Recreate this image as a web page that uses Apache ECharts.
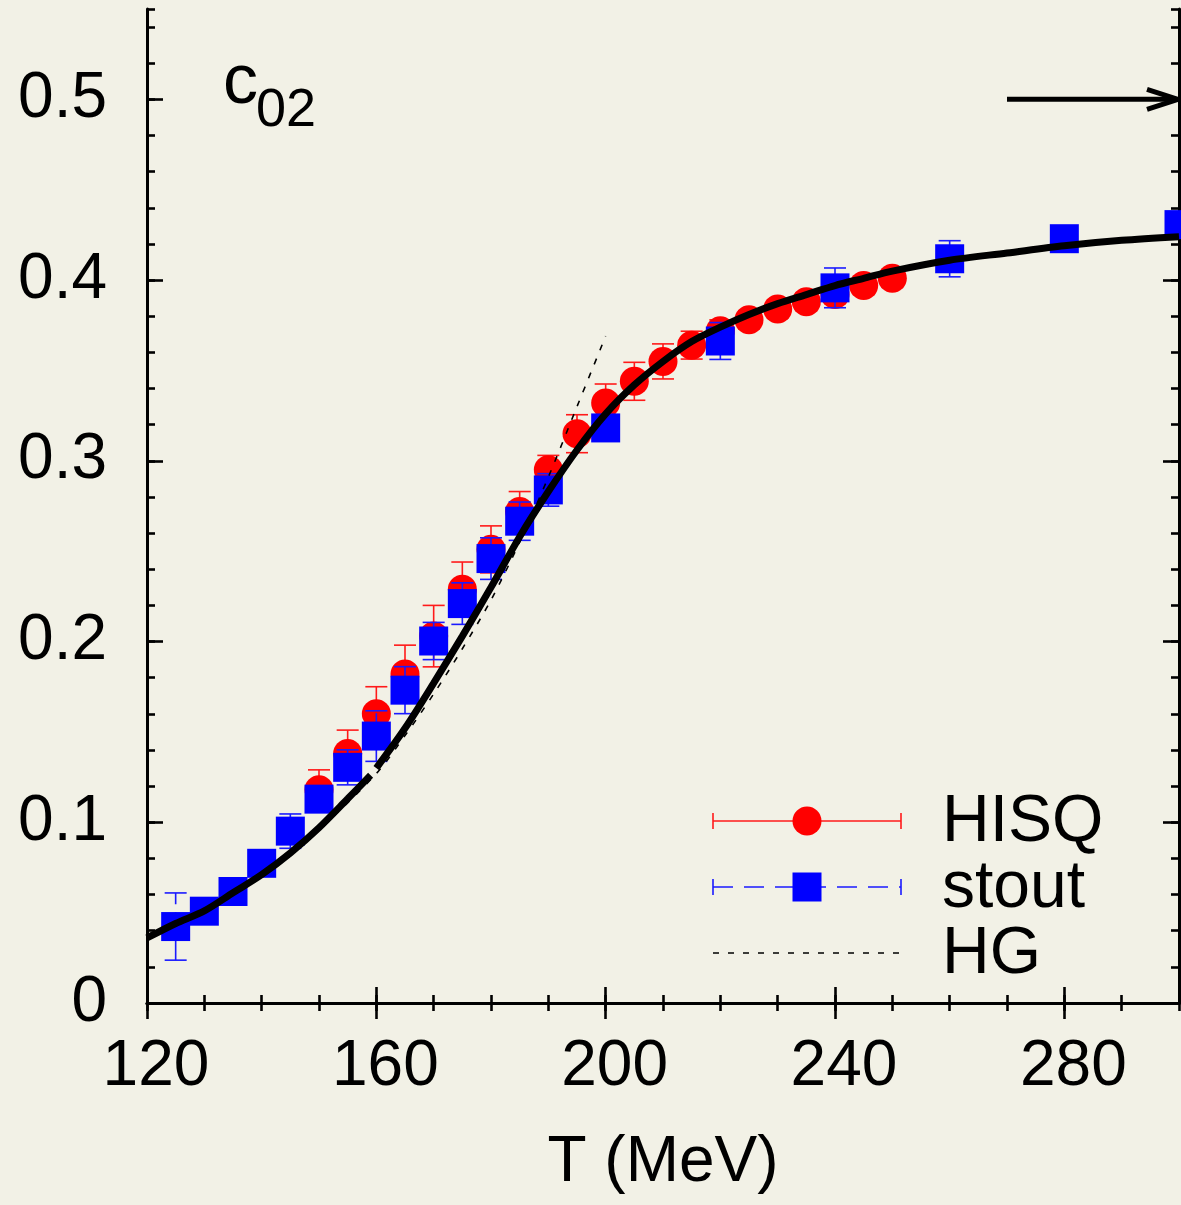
<!DOCTYPE html>
<html>
<head>
<meta charset="utf-8">
<title>c02 vs T</title>
<script src="https://cdn.jsdelivr.net/npm/echarts@6/dist/echarts.min.js"></script>
<style>
  html, body { margin: 0; padding: 0; background: #f2f1e6; }
  #chart { width: 1181px; height: 1205px; }
</style>
</head>
<body>
<div id="chart"></div>
<script>
// HISQ lattice results: temperature (MeV), c02, error
const hisqT   = [150, 155, 160, 165, 170, 175, 180, 185, 190, 195, 200, 205, 210, 215, 220, 225, 230, 235, 240, 245, 250];
const hisqY   = [0.118, 0.138, 0.160, 0.182, 0.203, 0.229, 0.251, 0.272, 0.295, 0.315, 0.332, 0.344, 0.355, 0.364, 0.372, 0.378, 0.384, 0.388, 0.392, 0.397, 0.401];
const hisqErr = [0.011, 0.013, 0.015, 0.016, 0.017, 0.015, 0.013, 0.011, 0.008, 0.0105, 0.0105, 0.0105, 0.0097, 0.0077, 0.006, 0.005, 0.005, 0.005, 0.005, 0.005, 0.005];

// stout lattice results
const stoutT   = [125, 130, 135, 140, 145, 150, 155, 160, 165, 170, 175, 180, 185, 190, 200, 220, 240, 260, 280, 300];
const stoutY   = [0.0423, 0.0508, 0.0617, 0.0773, 0.0951, 0.1128, 0.1304, 0.1477, 0.1731, 0.2003, 0.221, 0.2459, 0.2666, 0.2839, 0.3182, 0.3663, 0.3957, 0.4118, 0.4229, 0.4307];
const stoutErr = [0.0186, 0.003, 0.003, 0.003, 0.0095, 0.007, 0.0097, 0.014, 0.013, 0.0103, 0.0115, 0.0115, 0.0106, 0.009, 0.006, 0.0102, 0.011, 0.010, 0.004, 0.004];

// thick interpolating curve, drawn in two pieces
const fitLowT  = [120, 125, 130, 135, 140, 145, 150, 155, 159];
const fitLowY  = [0.036, 0.044, 0.051, 0.061, 0.071, 0.083, 0.097, 0.113, 0.126];
const fitHighT = [160, 165, 170, 175, 180, 185, 190, 195, 200, 205, 210, 215, 220, 225, 230, 235, 240, 245, 250, 260, 270, 280, 290, 300];
const fitHighY = [0.130, 0.152, 0.177, 0.203, 0.230, 0.258, 0.283, 0.306, 0.326, 0.342, 0.355, 0.366, 0.374, 0.381, 0.387, 0.392, 0.397, 0.401, 0.405, 0.411, 0.415, 0.419, 0.422, 0.424];

// hadron gas prediction
const hgT = [120, 130, 140, 150, 160, 165, 170, 175, 180, 185, 190, 195, 200];
const hgY = [0.036, 0.051, 0.071, 0.096, 0.127, 0.148, 0.171, 0.196, 0.223, 0.255, 0.291, 0.330, 0.369];

// axis ticks
const xTickLabels = [120, 160, 200, 240, 280];
const yTickLabels = [0, 0.1, 0.2, 0.3, 0.4, 0.5];

// Stefan-Boltzmann limit arrow
const arrowFrom = [270, 0.5];
const arrowTo   = [300, 0.5];

const FONT = '"Liberation Sans", Arial, Helvetica, sans-serif';
const BG = '#f2f1e6';

const zip3 = (a, b, c) => a.map((v, i) => [v, b[i], c[i]]);
const zip2 = (a, b) => a.map((v, i) => [v, b[i]]);

function errorBars(color, dash) {
  return function (params, api) {
    const x = api.value(0), y = api.value(1), e = api.value(2);
    const hi = api.coord([x, y + e]);
    const lo = api.coord([x, y - e]);
    const cap = 11;
    const style = { stroke: color, lineWidth: 1.6 };
    return {
      type: 'group',
      children: [
        { type: 'line', shape: { x1: lo[0], y1: lo[1], x2: hi[0], y2: hi[1] },
          style: Object.assign({}, style, dash ? { lineDash: dash } : {}) },
        { type: 'line', shape: { x1: hi[0] - cap, y1: hi[1], x2: hi[0] + cap, y2: hi[1] }, style: style },
        { type: 'line', shape: { x1: lo[0] - cap, y1: lo[1], x2: lo[0] + cap, y2: lo[1] }, style: style }
      ]
    };
  };
}

const axisLineStyle = { color: '#000', width: 3 };
const majorTick = { inside: true, length: 16, lineStyle: { color: '#000', width: 2.6 } };
const minorTick = { inside: true, length: 8, lineStyle: { color: '#000', width: 2.6 } };

function xAxisDef(position, major, labels) {
  return {
    type: 'value', min: 120, max: 300, position: position,
    interval: major ? 40 : 10,
    axisLine: { show: major, lineStyle: axisLineStyle },
    axisTick: Object.assign({}, major ? majorTick : minorTick, major ? { customValues: xTickLabels } : {}),
    axisLabel: labels ? {
      show: true, customValues: xTickLabels, fontSize: 64, fontFamily: FONT, color: '#000',
      margin: 32, padding: [0, 0, 0, 18],
      formatter: v => (v > 290 ? '' : String(v))
    } : { show: false },
    splitLine: { show: false },
    name: labels ? 'T (MeV)' : '',
    nameLocation: 'middle', nameGap: 128,
    nameTextStyle: { fontSize: 64, fontFamily: FONT, color: '#000' }
  };
}

function yAxisDef(position, major, labels) {
  return {
    type: 'value', min: 0, max: 0.55, position: position,
    interval: major ? 0.1 : 0.02,
    axisLine: { show: major, lineStyle: axisLineStyle },
    axisTick: Object.assign({}, major ? majorTick : minorTick, major ? { customValues: yTickLabels } : {}),
    axisLabel: labels ? {
      show: true, customValues: yTickLabels, fontSize: 64, fontFamily: FONT, color: '#000',
      margin: 40,
      formatter: v => (v > 0.51 ? '' : (v === 0 ? '0' : v.toFixed(1)))
    } : { show: false },
    splitLine: { show: false }
  };
}

const chart = echarts.init(document.getElementById('chart'), null, { renderer: 'canvas' });

const option = {
  backgroundColor: BG,
  animation: false,
  grid: { left: 147, right: 2, top: 9, bottom: 202, containLabel: false },
  xAxis: [
    xAxisDef('bottom', true, true),
    xAxisDef('bottom', false, false),
    xAxisDef('top', true, false),
    xAxisDef('top', false, false)
  ],
  yAxis: [
    yAxisDef('left', true, true),
    yAxisDef('left', false, false),
    yAxisDef('right', true, false),
    yAxisDef('right', false, false)
  ],
  series: [
    {
      name: 'HISQ err', type: 'custom', z: 2, silent: true,
      renderItem: errorBars('#ff1a1a', null),
      data: zip3(hisqT, hisqY, hisqErr)
    },
    {
      name: 'HISQ', type: 'scatter', z: 3, symbol: 'circle', symbolSize: 29,
      itemStyle: { color: '#ff0000', opacity: 1 }, silent: true,
      data: zip2(hisqT, hisqY)
    },
    {
      name: 'stout err', type: 'custom', z: 4, silent: true,
      renderItem: errorBars('#1a1aff', [20, 8]),
      data: zip3(stoutT, stoutY, stoutErr)
    },
    {
      name: 'stout', type: 'scatter', z: 5, symbol: 'rect', symbolSize: 29,
      itemStyle: { color: '#0000ff', opacity: 1 }, silent: true,
      data: zip2(stoutT, stoutY)
    },
    {
      name: 'HG', type: 'line', z: 6, showSymbol: false, smooth: 0.3, silent: true,
      lineStyle: { color: '#000', width: 1.6, type: [6, 9] },
      data: zip2(hgT, hgY)
    },
    {
      name: 'fit low', type: 'line', z: 7, showSymbol: false, smooth: 0.3, silent: true,
      lineStyle: { color: '#000', width: 7, cap: 'butt' },
      data: zip2(fitLowT, fitLowY)
    },
    {
      name: 'fit high', type: 'line', z: 7, showSymbol: false, smooth: 0.3, silent: true,
      lineStyle: { color: '#000', width: 7, cap: 'butt' },
      data: zip2(fitHighT, fitHighY)
    }
  ]
};

chart.setOption(option);

// annotation: arrow towards the Stefan-Boltzmann limit, panel label and legend
const a0 = chart.convertToPixel({ xAxisIndex: 0, yAxisIndex: 0 }, arrowFrom);
const a1 = chart.convertToPixel({ xAxisIndex: 0, yAxisIndex: 0 }, arrowTo);

const legendX0 = 713, legendX1 = 901, legendMid = 807, legendText = 942;
const rows = [821, 887, 953];

const graphics = [
  // arrow
  { type: 'line', z: 20, shape: { x1: a0[0], y1: a0[1], x2: a1[0] - 3, y2: a1[1] },
    style: { stroke: '#000', lineWidth: 5 } },
  { type: 'polyline', z: 20, shape: { points: [[a1[0] - 32, a1[1] - 10], [a1[0] - 1, a1[1]], [a1[0] - 32, a1[1] + 10]] },
    style: { stroke: '#000', lineWidth: 5, fill: null, lineJoin: 'miter' } },
  // panel label c_02
  { type: 'text', z: 20, x: 223, y: 119,
    style: { text: 'c', font: '70px ' + FONT, fill: '#000', verticalAlign: 'bottom' } },
  { type: 'text', z: 20, x: 256, y: 138,
    style: { text: '02', font: '54px ' + FONT, fill: '#000', verticalAlign: 'bottom' } },

  // legend: HISQ
  { type: 'line', z: 20, shape: { x1: legendX0, y1: rows[0], x2: legendX1, y2: rows[0] }, style: { stroke: '#ff1a1a', lineWidth: 1.6 } },
  { type: 'line', z: 20, shape: { x1: legendX0, y1: rows[0] - 8, x2: legendX0, y2: rows[0] + 8 }, style: { stroke: '#ff1a1a', lineWidth: 1.6 } },
  { type: 'line', z: 20, shape: { x1: legendX1, y1: rows[0] - 8, x2: legendX1, y2: rows[0] + 8 }, style: { stroke: '#ff1a1a', lineWidth: 1.6 } },
  { type: 'circle', z: 21, shape: { cx: legendMid, cy: rows[0], r: 14.5 }, style: { fill: '#ff0000' } },
  { type: 'text', z: 20, x: legendText, y: rows[0] + 2, style: { text: 'HISQ', font: '66px ' + FONT, fill: '#000', verticalAlign: 'middle' } },

  // legend: stout
  { type: 'line', z: 20, shape: { x1: legendX0, y1: rows[1], x2: legendX1, y2: rows[1] }, style: { stroke: '#1a1aff', lineWidth: 1.6, lineDash: [20, 11] } },
  { type: 'line', z: 20, shape: { x1: legendX0, y1: rows[1] - 8, x2: legendX0, y2: rows[1] + 8 }, style: { stroke: '#1a1aff', lineWidth: 1.6 } },
  { type: 'line', z: 20, shape: { x1: legendX1, y1: rows[1] - 8, x2: legendX1, y2: rows[1] + 8 }, style: { stroke: '#1a1aff', lineWidth: 1.6 } },
  { type: 'rect', z: 21, shape: { x: legendMid - 14.5, y: rows[1] - 14.5, width: 29, height: 29 }, style: { fill: '#0000ff' } },
  { type: 'text', z: 20, x: legendText, y: rows[1] + 2, style: { text: 'stout', font: '66px ' + FONT, fill: '#000', verticalAlign: 'middle' } },

  // legend: HG
  { type: 'line', z: 20, shape: { x1: legendX0, y1: rows[2], x2: legendX1, y2: rows[2] }, style: { stroke: '#000', lineWidth: 1.6, lineDash: [6, 9] } },
  { type: 'text', z: 20, x: legendText, y: rows[2] + 2, style: { text: 'HG', font: '66px ' + FONT, fill: '#000', verticalAlign: 'middle' } }
];

chart.setOption({ graphic: graphics });
</script>
</body>
</html>
